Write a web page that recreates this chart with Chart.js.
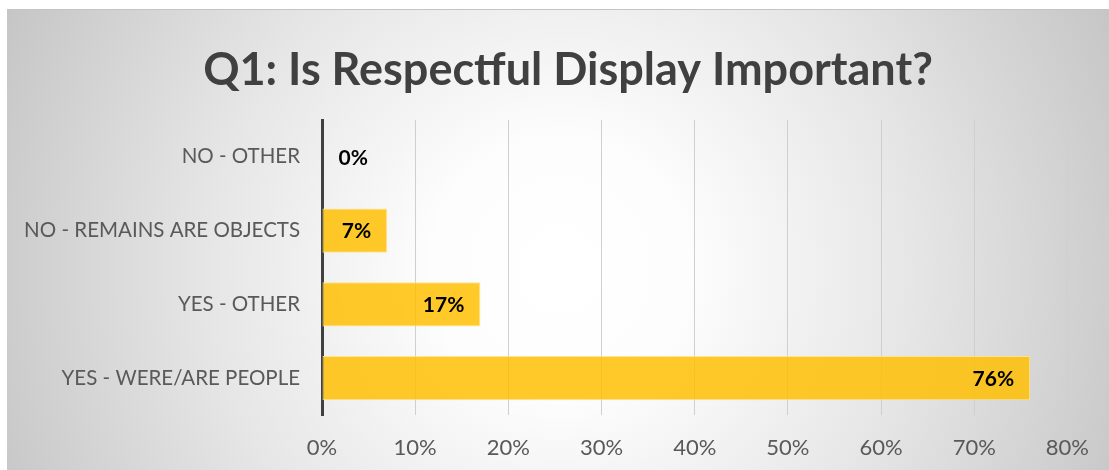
<!DOCTYPE html>
<html>
<head>
<meta charset="utf-8">
<script src="https://cdn.jsdelivr.net/npm/chart.js@4/dist/chart.umd.min.js"></script>
<style>
  html, body { margin: 0; padding: 0; background: #ffffff; }
  #wrap { position: relative; width: 1109px; height: 470px; }
</style>
</head>
<body>
<div id="wrap"><canvas id="chart" width="1109" height="470"></canvas></div>
<script>
// Survey answers, shown top to bottom
const categories = [
  'NO - OTHER',
  'NO - REMAINS ARE OBJECTS',
  'YES - OTHER',
  'YES - WERE/ARE PEOPLE'
];
// Share of respondents, percent
const shares = [0, 7, 17, 76];
// Axis range and step, percent
const axisMax = 80;
const axisStep = 10;

const titleText = 'Q1: Is Respectful Display Important?';
const fontFamily = 'Lato, "Open Sans", sans-serif';

// Grey panel with a soft white glow in the middle
const panelBackground = {
  id: 'panelBackground',
  beforeDraw(chart) {
    const ctx = chart.ctx;
    const w = chart.width, h = chart.height;
    ctx.save();
    ctx.fillStyle = '#ffffff';
    ctx.fillRect(0, 0, w, h);
    const x0 = 7, y0 = 9;
    const cx = 560, cy = 270;
    const g = ctx.createRadialGradient(cx, cy, 0, cx, cy, 640);
    g.addColorStop(0, '#ffffff');
    g.addColorStop(0.2, '#fdfdfd');
    g.addColorStop(0.55, '#e6e6e6');
    g.addColorStop(1, '#c2c2c2');
    ctx.fillStyle = g;
    ctx.fillRect(x0, y0, w - x0, h - y0);
    ctx.strokeStyle = '#c4c4c4';
    ctx.lineWidth = 1;
    ctx.beginPath();
    ctx.moveTo(x0, y0 + 0.5);
    ctx.lineTo(w, y0 + 0.5);
    ctx.stroke();
    ctx.restore();
  }
};

// Heading centred over the whole panel
const panelTitle = {
  id: 'panelTitle',
  afterDraw(chart) {
    const ctx = chart.ctx;
    ctx.save();
    ctx.font = 'bold 45px ' + fontFamily;
    ctx.fillStyle = '#404040';
    ctx.textAlign = 'center';
    ctx.textBaseline = 'middle';
    ctx.fillText(titleText, 568, 70);
    ctx.restore();
  }
};

// Percent labels near the end of each bar
const barValueLabels = {
  id: 'barValueLabels',
  afterDatasetsDraw(chart) {
    const ctx = chart.ctx;
    const meta = chart.getDatasetMeta(0);
    ctx.save();
    ctx.font = 'bold 21px ' + fontFamily;
    ctx.fillStyle = '#000000';
    ctx.textAlign = 'right';
    ctx.textBaseline = 'middle';
    meta.data.forEach((bar, i) => {
      const value = chart.data.datasets[0].data[i];
      const x = Math.max(bar.x - 16, bar.base + 46);
      ctx.fillText(Math.round(value) + '%', x, bar.y + 1);
    });
    ctx.restore();
  }
};

new Chart(document.getElementById('chart'), {
  type: 'bar',
  data: {
    labels: categories,
    datasets: [{
      data: shares,
      backgroundColor: 'rgba(255, 192, 0, 0.84)',
      borderColor: 'rgba(255, 228, 140, 0.95)',
      borderWidth: 1,
      borderSkipped: false,
      barPercentage: 0.6,
      categoryPercentage: 1.0
    }]
  },
  options: {
    indexAxis: 'y',
    responsive: false,
    animation: false,
    layout: { padding: { top: 120, right: 41, bottom: 0, left: 7 } },
    plugins: {
      legend: { display: false },
      tooltip: { enabled: false },
      title: { display: false }
    },
    scales: {
      x: {
        min: 0,
        max: axisMax,
        grid: { color: '#cfcfcf', lineWidth: 1, drawTicks: false },
        border: { display: false },
        ticks: {
          stepSize: axisStep,
          color: '#595959',
          padding: 20,
          font: { family: fontFamily, size: 22 },
          callback: v => v + '%'
        },
        afterFit(scale) { scale.height = 55; }
      },
      y: {
        grid: { display: false, drawTicks: false },
        border: { display: true, color: '#404040', width: 3 },
        ticks: {
          color: '#595959',
          padding: 22,
          font: { family: fontFamily, size: 20.5 }
        },
        afterFit(scale) { scale.width = 322 - 7; }
      }
    }
  },
  plugins: [panelBackground, panelTitle, barValueLabels]
});
</script>
</body>
</html>
